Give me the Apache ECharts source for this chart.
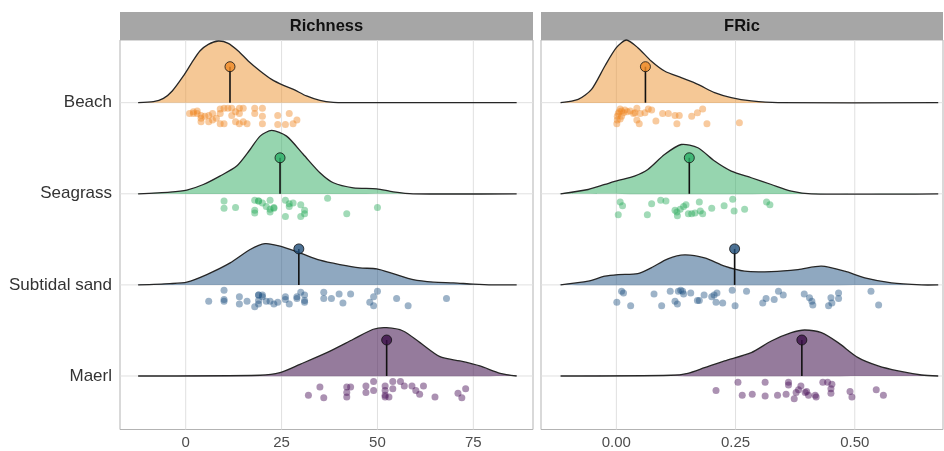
<!DOCTYPE html>
<html><head><meta charset="utf-8">
<script src="https://cdn.jsdelivr.net/npm/echarts@6/dist/echarts.min.js"></script>
<style>html,body{margin:0;padding:0;background:#fff}#c{width:944px;height:451px}</style>
</head><body><div id="c"></div>
<script>
// ---- categories / facets ----
const habitats = ['Beach', 'Seagrass', 'Subtidal sand', 'Maerl'];
const facets = ['Richness', 'FRic'];
const richTicks = [0, 25, 50, 75];
const fricTicks = [0, 0.25, 0.5];
const richTickLabels = ['0', '25', '50', '75'];
const fricTickLabels = ['0.00', '0.25', '0.50'];

// ---- means (lollipops) ----
const richMeans = [11.55, 24.6, 29.5, 52.4];
const fricMeans = [0.061, 0.153, 0.248, 0.389];
const stemHeight = 0.395;

// ---- density curves: [value, ridge height] ----
const richDensBeach = [[-12.4,0],[-8.4,.011],[-5.8,.047],[-3.5,.128],[-0.6,.293],[1.6,.439],[3.7,.567],[5.9,.640],[8.5,.677],[11.1,.651],[13.7,.567],[16.3,.458],[19.4,.348],[22.4,.256],[25.5,.190],[28.1,.146],[31.5,.074],[35.0,.025],[38.5,.003],[42.0,0],[86.3,0]];
const richDensSeagrass = [[-12.4,0],[-4.1,.019],[0.3,.041],[4.6,.102],[8.9,.194],[13.3,.304],[16.8,.486],[19.4,.633],[22.4,.695],[26.3,.633],[30.7,.431],[35.0,.231],[38.5,.121],[43.7,.066],[49.8,.055],[54.1,.022],[59.3,0],[86.3,0]];
const richDensSubtidal = [[-12.4,0],[-4.1,.014],[0.3,.030],[5.5,.113],[11.6,.241],[16.8,.388],[20.7,.453],[24.6,.425],[29.8,.351],[35.0,.271],[40.2,.223],[45.4,.187],[49.8,.176],[54.1,.124],[59.3,.058],[64.6,.030],[69.8,.022],[75,.008],[80.2,0],[86.3,0]];
const richDensMaerl = [[-12.4,0],[19.4,.008],[24.6,.036],[29.8,.128],[36.8,.256],[43.7,.403],[48.9,.513],[52.4,.530],[56.7,.494],[61.1,.366],[66.3,.212],[71.5,.165],[76.7,.110],[82.0,.030],[86.3,0]];
const fricDensBeach = [[-0.117,0],[-0.080,.036],[-0.052,.146],[-0.024,.403],[0.0,.604],[0.021,.688],[0.045,.604],[0.073,.458],[0.101,.348],[0.136,.274],[0.171,.201],[0.206,.110],[0.241,.055],[0.283,.019],[0.339,0],[0.675,0]];
const fricDensSeagrass = [[-0.117,0],[-0.059,.047],[-0.024,.102],[0.004,.146],[0.038,.194],[0.066,.267],[0.101,.431],[0.136,.541],[0.171,.505],[0.206,.359],[0.241,.249],[0.283,.176],[0.325,.102],[0.367,.030],[0.409,0],[0.675,0]];
const fricDensSubtidal = [[-0.117,0],[-0.059,.041],[-0.024,.096],[0.004,.113],[0.045,.124],[0.073,.187],[0.108,.285],[0.143,.329],[0.185,.296],[0.227,.205],[0.269,.150],[0.325,.146],[0.381,.168],[0.430,.205],[0.479,.150],[0.521,.077],[0.577,.022],[0.640,0],[0.675,0]];
const fricDensMaerl = [[-0.117,0],[0.115,.008],[0.150,.030],[0.185,.091],[0.227,.165],[0.283,.256],[0.325,.384],[0.367,.475],[0.395,.505],[0.430,.475],[0.465,.366],[0.507,.201],[0.549,.110],[0.591,.055],[0.640,.011],[0.675,0]];

// ---- raw observations: [value, jitter below ridge baseline] ----
const richPtsBeach = [[1,.12],[2,.10],[3,.09],[4,.14],[4,.17],[4,.21],[3,.12],[5,.15],[6,.14],[7,.19],[8,.17],[9,.12],[9,.07],[10,.06],[11,.06],[12,.06],[9,.23],[10,.23],[12,.14],[13,.10],[14,.06],[15,.06],[14,.12],[13,.21],[14,.23],[15,.21],[16,.23],[18,.06],[18,.12],[20,.06],[20,.15],[20,.23],[24,.14],[27,.12],[24,.24],[26,.24],[28,.23],[29,.19],[2,.12],[6,.21],[7,.12]];
const richPtsSeagrass = [[10,.08],[10,.16],[13,.15],[18,.07],[19,.08],[20,.10],[18,.18],[18,.21],[21,.14],[22,.07],[22,.17],[22,.20],[23,.16],[26,.07],[26,.25],[27,.11],[27,.14],[28,.10],[30,.12],[30,.25],[31,.18],[31,.22],[37,.05],[42,.22],[50,.15],[23,.15],[19,.08]];
const richPtsSubtidal = [[6,.18],[10,.06],[10,.16],[10,.18],[14,.13],[14,.21],[16,.18],[18,.24],[19,.21],[19,.11],[19,.11],[20,.11],[20,.13],[19,.17],[21,.18],[22,.18],[23,.21],[24,.19],[26,.13],[26,.16],[27,.21],[29,.15],[30,.08],[31,.11],[31,.17],[31,.19],[36,.08],[36,.15],[38,.15],[40,.10],[41,.20],[43,.10],[48,.19],[49,.13],[49,.23],[50,.07],[55,.15],[58,.23],[68,.15],[29,.13]];
const richPtsMaerl = [[32,.21],[35,.12],[36,.24],[42,.12],[42,.18],[42,.23],[43,.12],[47,.11],[47,.18],[49,.06],[49,.16],[52,.11],[52,.16],[52,.21],[52,.23],[53,.23],[54,.06],[54,.14],[56,.06],[57,.11],[59,.11],[60,.16],[61,.20],[62,.11],[65,.23],[71,.19],[72,.24],[73,.14]];
const fricPtsBeach = [[0.001,.23],[0.002,.19],[0.002,.15],[0.004,.12],[0.006,.10],[0.008,.07],[0.011,.09],[0.015,.11],[0.018,.08],[0.023,.10],[0.029,.09],[0.036,.12],[0.039,.11],[0.043,.06],[0.043,.19],[0.048,.23],[0.060,.11],[0.067,.07],[0.074,.08],[0.083,.20],[0.097,.12],[0.109,.12],[0.123,.14],[0.127,.23],[0.132,.14],[0.158,.15],[0.170,.11],[0.181,.07],[0.190,.23],[0.258,.22],[0.050,.12],[0.011,.15],[0.008,.18]];
const fricPtsSeagrass = [[0.008,.09],[0.013,.13],[0.004,.23],[0.074,.11],[0.065,.23],[0.093,.07],[0.104,.08],[0.123,.18],[0.127,.20],[0.128,.24],[0.134,.17],[0.141,.14],[0.146,.12],[0.151,.22],[0.158,.22],[0.165,.21],[0.174,.09],[0.176,.19],[0.181,.22],[0.200,.16],[0.226,.13],[0.244,.06],[0.247,.19],[0.269,.17],[0.315,.09],[0.322,.12]];
const fricPtsSubtidal = [[0.001,.19],[0.011,.07],[0.015,.09],[0.030,.23],[0.079,.10],[0.095,.23],[0.113,.07],[0.123,.18],[0.128,.21],[0.130,.07],[0.135,.06],[0.139,.07],[0.141,.10],[0.156,.09],[0.170,.17],[0.174,.17],[0.184,.11],[0.200,.13],[0.205,.11],[0.211,.09],[0.209,.19],[0.223,.20],[0.243,.06],[0.249,.23],[0.273,.07],[0.307,.20],[0.314,.15],[0.331,.16],[0.340,.07],[0.350,.11],[0.394,.10],[0.405,.14],[0.410,.18],[0.412,.22],[0.445,.23],[0.450,.14],[0.452,.20],[0.466,.09],[0.466,.15],[0.534,.07],[0.550,.22]];
const fricPtsMaerl = [[0.209,.16],[0.255,.07],[0.264,.21],[0.285,.20],[0.312,.07],[0.312,.22],[0.338,.21],[0.356,.20],[0.361,.07],[0.361,.10],[0.373,.25],[0.377,.18],[0.382,.15],[0.387,.11],[0.396,.18],[0.399,.17],[0.403,.21],[0.417,.21],[0.419,.23],[0.433,.07],[0.443,.07],[0.452,.09],[0.450,.14],[0.450,.19],[0.490,.17],[0.494,.23],[0.545,.15],[0.560,.21]];

// ---- styling ----
const fillColors = ['rgba(235,145,45,0.5)', 'rgba(45,171,95,0.5)', 'rgba(31,81,129,0.5)', 'rgba(78,35,90,0.6)'];
const pointColors = ['rgba(238,135,35,0.55)', 'rgba(40,170,90,0.55)', 'rgba(31,81,129,0.55)', 'rgba(80,25,95,0.6)'];
const meanColors = ['#F08A24', '#2BAE66', '#1F4E79', '#3B0F48'];

const panels = [
  { dens: [richDensBeach, richDensSeagrass, richDensSubtidal, richDensMaerl],
    pts: [richPtsBeach, richPtsSeagrass, richPtsSubtidal, richPtsMaerl],
    means: richMeans, ticks: richTicks, tickLabels: richTickLabels,
    min: -17.13, max: 90.56 },
  { dens: [fricDensBeach, fricDensSeagrass, fricDensSubtidal, fricDensMaerl],
    pts: [fricPtsBeach, fricPtsSeagrass, fricPtsSubtidal, fricPtsMaerl],
    means: fricMeans, ticks: fricTicks, tickLabels: fricTickLabels,
    min: -0.158, max: 0.685 }
];
const yMin = 0.4127, yMax = 4.688;
const baseOf = i => habitats.length - i; // Beach = 4 ... Maerl = 1

const chart = echarts.init(document.getElementById('c'), null, { renderer: 'canvas' });
const series = [];

panels.forEach((p, pi) => {
  // grid lines
  series.push({
    type: 'custom', xAxisIndex: pi, yAxisIndex: pi, silent: true, z: 0,
    data: [[p.ticks[0], 1]],
    renderItem: (params, api) => {
      const children = [];
      p.ticks.forEach(t => {
        const a = api.coord([t, yMin]), b = api.coord([t, yMax]);
        children.push({ type: 'line', shape: { x1: a[0], y1: a[1], x2: b[0], y2: b[1] }, style: { stroke: '#e0e0e0', lineWidth: 1 } });
      });
      habitats.forEach((h, i) => {
        const a = api.coord([p.min, baseOf(i)]), b = api.coord([p.max, baseOf(i)]);
        children.push({ type: 'line', shape: { x1: a[0], y1: a[1], x2: b[0], y2: b[1] }, style: { stroke: '#e0e0e0', lineWidth: 1 } });
      });
      return { type: 'group', children };
    }
  });
  habitats.forEach((h, i) => {
    const base = baseOf(i);
    const dens = p.dens[i];
    series.push({
      type: 'custom', xAxisIndex: pi, yAxisIndex: pi, silent: true, z: 2,
      data: [[dens[0][0], base]],
      renderItem: (params, api) => {
        const top = dens.map(d => api.coord([d[0], base + d[1]]));
        return { type: 'group', children: [
          { type: 'polygon', shape: { points: top, smooth: 0.25 }, style: { fill: fillColors[i], stroke: null } },
          { type: 'polyline', shape: { points: top, smooth: 0.25 }, style: { fill: null, stroke: '#262626', lineWidth: 1.3 } }
        ]};
      }
    });
    series.push({
      type: 'scatter', xAxisIndex: pi, yAxisIndex: pi, silent: true, z: 3,
      symbolSize: 7,
      itemStyle: { color: pointColors[i] },
      data: p.pts[i].map(d => [d[0], base - d[1]])
    });
    const m = p.means[i];
    series.push({
      type: 'custom', xAxisIndex: pi, yAxisIndex: pi, silent: true, z: 4,
      data: [[m, base]],
      renderItem: (params, api) => {
        const a = api.coord([api.value(0), api.value(1)]);
        const b = api.coord([api.value(0), api.value(1) + stemHeight]);
        return { type: 'line', shape: { x1: a[0], y1: a[1], x2: b[0], y2: b[1] }, style: { stroke: '#111', lineWidth: 1.6 } };
      }
    });
    series.push({
      type: 'scatter', xAxisIndex: pi, yAxisIndex: pi, silent: true, z: 5,
      symbolSize: 10,
      itemStyle: { color: meanColors[i], borderColor: '#111', borderWidth: 1 },
      data: [[m, base + stemHeight]]
    });
  });
});

const grids = [
  { left: 120, width: 413, top: 40, height: 389.5 },
  { left: 541, width: 402, top: 40, height: 389.5 }
].map(g => Object.assign(g, { show: true, borderColor: '#b3b3b3', borderWidth: 1, backgroundColor: '#fff', containLabel: false }));

const xAxes = panels.map((p, pi) => ({
  type: 'value', gridIndex: pi, min: p.min, max: p.max,
  axisLine: { show: false }, splitLine: { show: false },
  axisTick: { show: false },
  axisLabel: {
    customValues: p.ticks, color: '#4d4d4d', fontSize: 15, margin: 6,
    fontFamily: 'Liberation Sans, Arial, sans-serif',
    formatter: v => { const k = p.ticks.findIndex(t => Math.abs(t - v) < 1e-9); return k >= 0 ? p.tickLabels[k] : ''; }
  }
}));
const yAxes = panels.map((p, pi) => ({
  type: 'value', gridIndex: pi, min: yMin, max: yMax,
  axisLine: { show: false }, splitLine: { show: false }, axisTick: { show: false },
  axisLabel: pi === 0 ? {
    customValues: [1, 2, 3, 4], color: '#333', fontSize: 17, margin: 8,
    fontFamily: 'Liberation Sans, Arial, sans-serif',
    formatter: v => habitats[habitats.length - Math.round(v)]
  } : { show: false }
}));

const graphic = grids.map((g, gi) => ({
  type: 'group', left: g.left, top: 12, children: [
    { type: 'rect', shape: { x: 0, y: 0, width: g.width, height: 28 }, style: { fill: '#a6a6a6' } },
    { type: 'text', x: g.width / 2, y: 14, style: { text: facets[gi], align: 'center', verticalAlign: 'middle', font: 'bold 16.5px "Liberation Sans", Arial, sans-serif', fill: '#111' } }
  ]
}));

chart.setOption({
  animation: false,
  backgroundColor: '#fff',
  grid: grids, xAxis: xAxes, yAxis: yAxes, series, graphic
});
</script></body></html>
